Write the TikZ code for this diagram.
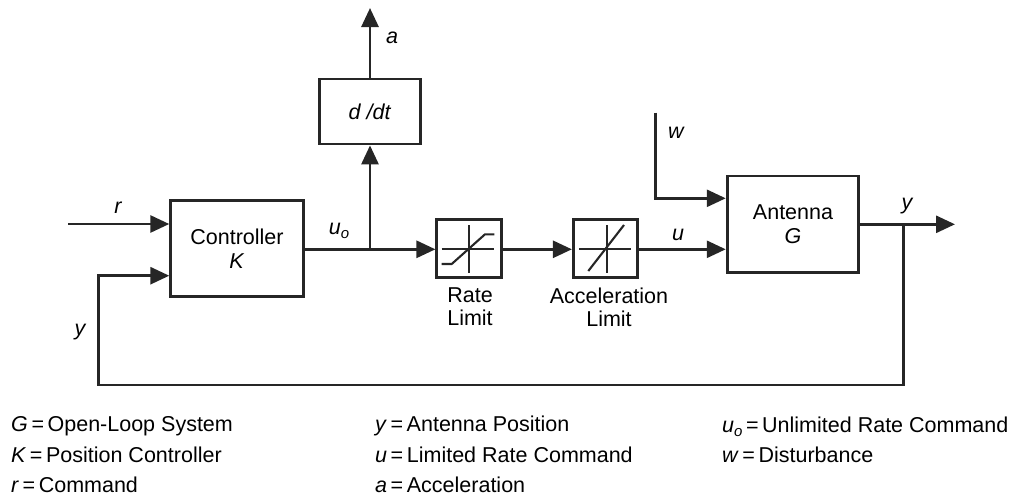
\documentclass[tikz,border=0pt]{standalone}
\usepackage{fontspec}
\setmainfont{Liberation Sans}
\usetikzlibrary{arrows.meta,calc}
\newcommand{\subo}{\raisebox{-4.5pt}{\fontsize{15}{15}\selectfont\itshape o}}
\begin{document}
\begin{tikzpicture}[x=1pt,y=-1pt,
  blk/.style={draw=black!85,line width=2.8pt,inner sep=0pt,align=center,font=\fontsize{21.5}{25}\selectfont},
  conn/.style={draw=black!85,line width=2.8pt},
  arr/.style={conn,-{Triangle[length=19pt,width=17pt]}},
  lbl/.style={font=\fontsize{21.5}{25}\selectfont\itshape,inner sep=0pt},
  captxt/.style={font=\fontsize{21.5}{25}\selectfont,align=center,inner sep=0pt},
  leg/.style={font=\fontsize{21.5}{25}\selectfont,anchor=west,inner sep=0pt},
  icon/.style={draw=black!85,line width=2.1pt}]
\useasboundingbox (0,0) rectangle (1016,498);
% blocks
\node[blk,minimum width=132.6pt,minimum height=96pt] (ctrl) at (237,248.7) {Controller\\[-1pt]\textit{K}};
\node[blk,minimum width=101.4pt,minimum height=65pt] (ddt) at (370,111.5) {\textit{d /dt}};
\node[blk,minimum width=64.3pt,minimum height=58.4pt] (rate) at (469,248.5) {};
\node[blk,minimum width=64.4pt,minimum height=58.7pt] (acc) at (605.5,248.5) {};
\node[blk,minimum width=131.7pt,minimum height=96.7pt] (ant) at (793,224.3) {Antenna\\[-1pt]\textit{G}};
% icons
\draw[icon] (441.7,249) -- (494.3,249);
\draw[icon] (469.3,225) -- (469.3,273);
\draw[icon] (441.7,264) -- (451.7,264) -- (485,234.3) -- (494.3,234.3);
\draw[icon] (579,249) -- (631,249);
\draw[icon] (606.7,225) -- (606.7,273);
\draw[icon] (588.3,271) -- (624,225);
% captions
\node[captxt] (ratecap) at (470,307) {Rate\\[-2pt]Limit};
\node[captxt] (acccap) at (609,307) {Acceleration\\[-2pt]Limit};
% coordinates
\coordinate (rin) at (68,224);
\coordinate (br1) at (370,249.3);
\coordinate (aout) at (370,8);
\coordinate (wtop) at (655.7,112.7);
\coordinate (wcorner) at (655.7,198.3);
\coordinate (yout) at (955,224.3);
\coordinate (br2) at (903.3,224.3);
\coordinate (fbr) at (903.3,385);
\coordinate (fbl) at (98.3,385);
\coordinate (fbt) at (98.3,275.7);
% connectors
\draw[arr] (rin) -- (rin -| ctrl.west);
\draw[conn] (ctrl.east |- br1) -- (br1);
\draw[arr] (br1) -- (rate.west |- br1);
\draw[arr] (br1) -- (ddt.south);
\draw[arr] (ddt.north) -- (aout);
\draw[arr] (rate.east |- br1) -- (acc.west |- br1);
\draw[arr] (acc.east |- br1) -- (ant.west |- br1);
\draw[arr] (wtop) -- (wcorner) -- (wcorner -| ant.west);
\draw[arr] (ant.east) -- (yout);
\draw[arr] (br2) -- (fbr) -- (fbl) -- (fbt) -- (fbt -| ctrl.west);
% labels
\node[lbl] (lr) at (118,208) {r};
\node[lbl] (luo) at (339,231) {u\subo};
\node[lbl] (la) at (392,38) {a};
\node[lbl] (lu) at (678,235) {u};
\node[lbl] (lw) at (676,133) {w};
\node[lbl] (ly1) at (907,206) {y};
\node[lbl] (ly2) at (80,332) {y};
% legend
\node[leg] (g1) at (11,426) {\textit{G}\,=\,Open-Loop System};
\node[leg] (g2) at (11,455) {\textit{K}\,=\,Position Controller};
\node[leg] (g3) at (11,485) {\textit{r}\,=\,Command};
\node[leg] (g4) at (375,426) {\textit{y}\,=\,Antenna Position};
\node[leg] (g5) at (375,455) {\textit{u}\,=\,Limited Rate Command};
\node[leg] (g6) at (375,485) {\textit{a}\,=\,Acceleration};
\node[leg] (g7) at (722,427) {\textit{u}\subo\,=\,Unlimited Rate Command};
\node[leg] (g8) at (722,455) {\textit{w}\,=\,Disturbance};
\end{tikzpicture}
\end{document}
